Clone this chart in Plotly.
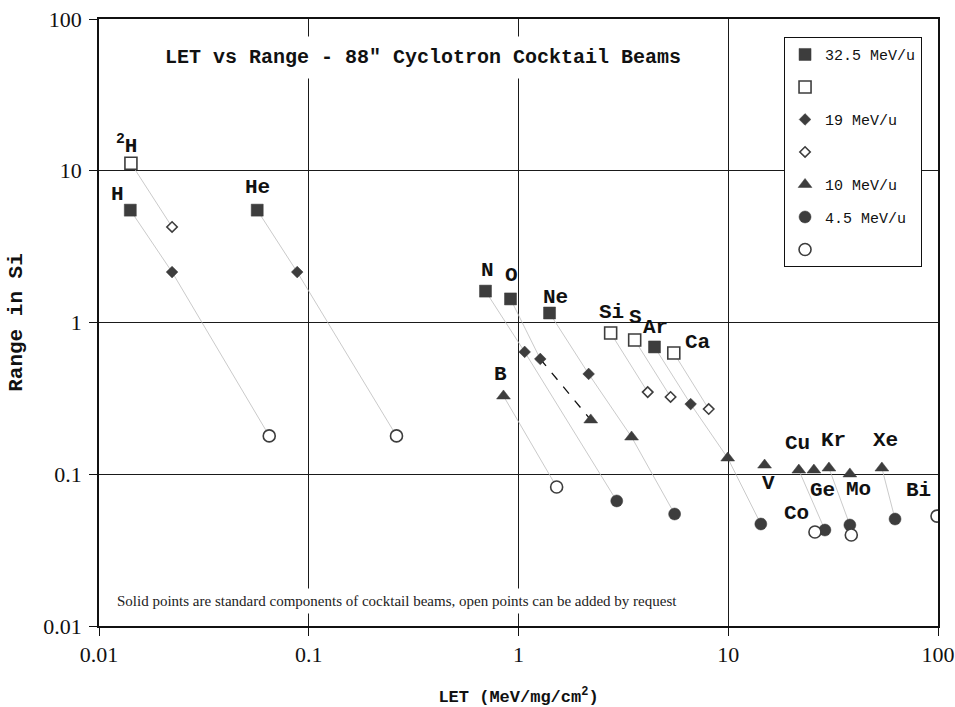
import math
import plotly.graph_objects as go

# ---------------- data ----------------
# 32.5 MeV/u  solid squares
sq_ions = ["H", "He", "N", "O", "Ne", "Ar"]
sq_let = [0.0141, 0.0568, 0.696, 0.916, 1.406, 4.45]
sq_rng = [5.5, 5.5, 1.61, 1.43, 1.155, 0.69]
# 32.5 MeV/u  open squares
sqo_ions = ["2H", "Si", "S", "Ca"]
sqo_let = [0.0142, 2.75, 3.58, 5.5]
sqo_rng = [11.2, 0.853, 0.767, 0.63]
# 19 MeV/u  solid diamonds
di_ions = ["H", "He", "N", "O", "Ne", "Ar"]
di_let = [0.0223, 0.0881, 1.07, 1.27, 2.16, 6.62]
di_rng = [2.15, 2.15, 0.64, 0.575, 0.458, 0.290]
# 19 MeV/u  open diamonds
dio_ions = ["2H", "Si", "S", "Ca"]
dio_let = [0.0223, 4.13, 5.31, 8.07]
dio_rng = [4.26, 0.348, 0.323, 0.269]
# 10 MeV/u  triangles
tri_ions = ["B", "O", "Ne", "Ar", "V", "Cu", "Ge", "Kr", "Mo", "Xe"]
tri_let = [0.848, 2.21, 3.46, 9.94, 14.9, 21.7, 25.6, 30.2, 38.0, 54.0]
tri_rng = [0.328, 0.228, 0.176, 0.128, 0.115, 0.1066, 0.1066, 0.110, 0.1005, 0.110]
# 4.5 MeV/u  solid circles
ci_ions = ["N", "Ne", "Ar", "Cu", "Kr", "Xe"]
ci_let = [2.94, 5.55, 14.3, 28.9, 38.0, 62.4]
ci_rng = [0.0667, 0.0547, 0.047, 0.0429, 0.0463, 0.0507]
# 4.5 MeV/u  open circles
cio_ions = ["H", "He", "B", "Co", "Mo", "Bi"]
cio_let = [0.0648, 0.262, 1.52, 25.9, 38.6, 98.9]
cio_rng = [0.179, 0.179, 0.0824, 0.0416, 0.0398, 0.053]

legend_names = ["32.5 MeV/u", " ", "19 MeV/u", " ", "10 MeV/u", "4.5 MeV/u", " "]

tick_vals = [0.01, 0.1, 1, 10, 100]
tick_text = ["0.01", "0.1", "1", "10", "100"]

# which ions are joined (thin grey lines), in series order
thin_paths = {
    "H": ["sq", "di", "cio"],
    "2H": ["sqo", "dio"],
    "He": ["sq", "di", "cio"],
    "N": ["sq", "di", "ci"],
    "O": ["sq", "di"],
    "B": ["tri", "cio"],
    "Ne": ["sq", "di", "tri", "ci"],
    "Si": ["sqo", "dio"],
    "S": ["sqo", "dio"],
    "Ar": ["sq", "di", "tri", "ci"],
    "Ca": ["sqo", "dio"],
    "Cu": ["tri", "ci"],
    "Kr": ["tri", "ci"],
    "Xe": ["tri", "ci"],
}
dashed_paths = {"O": ["di", "tri"]}

series = {
    "sq": (sq_ions, sq_let, sq_rng),
    "sqo": (sqo_ions, sqo_let, sqo_rng),
    "di": (di_ions, di_let, di_rng),
    "dio": (dio_ions, dio_let, dio_rng),
    "tri": (tri_ions, tri_let, tri_rng),
    "ci": (ci_ions, ci_let, ci_rng),
    "cio": (cio_ions, cio_let, cio_rng),
}

# labels: text, series, ion, xshift(px), yshift(px, up)
labels = [
    ("<sup>2</sup>H", "sqo", "2H", -4, 19),
    ("H", "sq", "H", -13, 16),
    ("He", "sq", "He", 0, 23),
    ("N", "sq", "N", 2, 21),
    ("O", "sq", "O", 1, 23),
    ("Ne", "sq", "Ne", 6, 16),
    ("Si", "sqo", "Si", 1, 20),
    ("S", "sqo", "S", 1, 22),
    ("Ar", "sq", "Ar", 1, 19),
    ("Ca", "sqo", "Ca", 24, 10),
    ("B", "tri", "B", -3, 21),
    ("V", "tri", "V", 4, -18),
    ("Cu", "tri", "Cu", -1, 27),
    ("Kr", "tri", "Kr", 5, 27),
    ("Xe", "tri", "Xe", 4, 27),
    ("Ge", "tri", "Ge", 9, -20),
    ("Mo", "tri", "Mo", 9, -16),
    ("Bi", "cio", "Bi", -18, 26),
    ("Co", "cio", "Co", -18, 19),
]

DARK = "#3d3d3d"
MONO = "Liberation Mono"
SERIF = "Liberation Serif"


def point(key, ion):
    ions, xs, ys = series[key]
    i = ions.index(ion)
    return xs[i], ys[i]


fig = go.Figure()

# connecting lines
for ion, keys in thin_paths.items():
    pts = [point(k, ion) for k in keys]
    fig.add_trace(go.Scatter(
        x=[p[0] for p in pts], y=[p[1] for p in pts], mode="lines",
        line=dict(color="#bcbcbc", width=0.8), showlegend=False, hoverinfo="skip"))
for ion, keys in dashed_paths.items():
    pts = [point(k, ion) for k in keys]
    fig.add_trace(go.Scatter(
        x=[p[0] for p in pts], y=[p[1] for p in pts], mode="lines",
        line=dict(color="#111111", width=1.3, dash="dash"), showlegend=False, hoverinfo="skip"))

marker_styles = [
    ("sq", "square", 12, True),
    ("sqo", "square", 12, False),
    ("di", "diamond", 9, True),
    ("dio", "diamond", 8, False),
    ("tri", "triangle-up", 12, True),
    ("ci", "circle", 12, True),
    ("cio", "circle", 12, False),
]

for n, (key, sym, size, solid) in enumerate(marker_styles):
    ions, xs, ys = series[key]
    if solid:
        mk = dict(symbol=sym, size=size, color=DARK, line=dict(color=DARK, width=0.5))
    else:
        mk = dict(symbol=sym, size=size, color="white", line=dict(color=DARK, width=1.6))
    fig.add_trace(go.Scatter(
        x=xs, y=ys, mode="markers", marker=mk, name=legend_names[n],
        legendgroup="g%d" % n, showlegend=True, text=ions))

annotations = []
for txt, key, ion, dx, dy in labels:
    x, y = point(key, ion)
    annotations.append(dict(
        x=math.log10(x), y=math.log10(y), xref="x", yref="y", text=txt,
        showarrow=False, xshift=dx, yshift=dy,
        font=dict(family=MONO, size=21, color="#111111", weight="bold")))

annotations.append(dict(
    x=0.386, y=0.937, xref="paper", yref="paper", xanchor="center", yanchor="middle",
    text="LET vs Range - 88\" Cyclotron Cocktail Beams", showarrow=False,
    font=dict(family=MONO, size=20, color="#111111", weight="bold"),
    bgcolor="white", borderpad=9))

annotations.append(dict(
    x=0.0155, y=0.042, xref="paper", yref="paper", xanchor="left", yanchor="middle",
    text="Solid points are standard components of cocktail beams, open points can be added by request",
    showarrow=False, font=dict(family=SERIF, size=15, color="#222222"),
    bgcolor="white", borderpad=4))

axis_common = dict(
    type="log", tickvals=tick_vals, ticktext=tick_text, automargin=False,
    ticklabeloverflow="allow",
    showgrid=True, gridcolor="#1a1a1a", gridwidth=1,
    showline=True, linecolor="#111111", linewidth=1.5, mirror=True,
    ticks="outside", ticklen=8, tickcolor="#111111",
    tickfont=dict(family=SERIF, size=22, color="#111111"),
    zeroline=False,
)

fig.update_layout(
    width=955, height=707, autosize=False,
    margin=dict(l=99, r=17, t=19, b=81),
    paper_bgcolor="white", plot_bgcolor="white",
    xaxis=dict(axis_common, range=[-2, 2],
               title=dict(text="LET (MeV/mg/cm<sup>2</sup>)", standoff=26,
                          font=dict(family=MONO, size=17, color="#111111", weight="bold"))),
    yaxis=dict(axis_common, range=[-2, 2], ticklabelstandoff=3,
               title=dict(text="Range in Si", standoff=15,
                          font=dict(family=MONO, size=21, color="#111111", weight="bold"))),
    legend=dict(x=0.8165, y=0.970, xanchor="left", yanchor="top",
                bgcolor="white", bordercolor="#111111", borderwidth=1,
                font=dict(family=MONO, size=15, color="#111111"),
                traceorder="grouped", tracegroupgap=10, itemwidth=30),
    annotations=annotations,
    showlegend=True,
)

# remove the default page margin so the 955x707 figure fills the window exactly
fig.write_html(
    "out.html",
    config={"displayModeBar": False},
    post_script="document.documentElement.style.overflow='hidden';"
                "document.body.style.margin='0';document.body.style.overflow='hidden';",
)
